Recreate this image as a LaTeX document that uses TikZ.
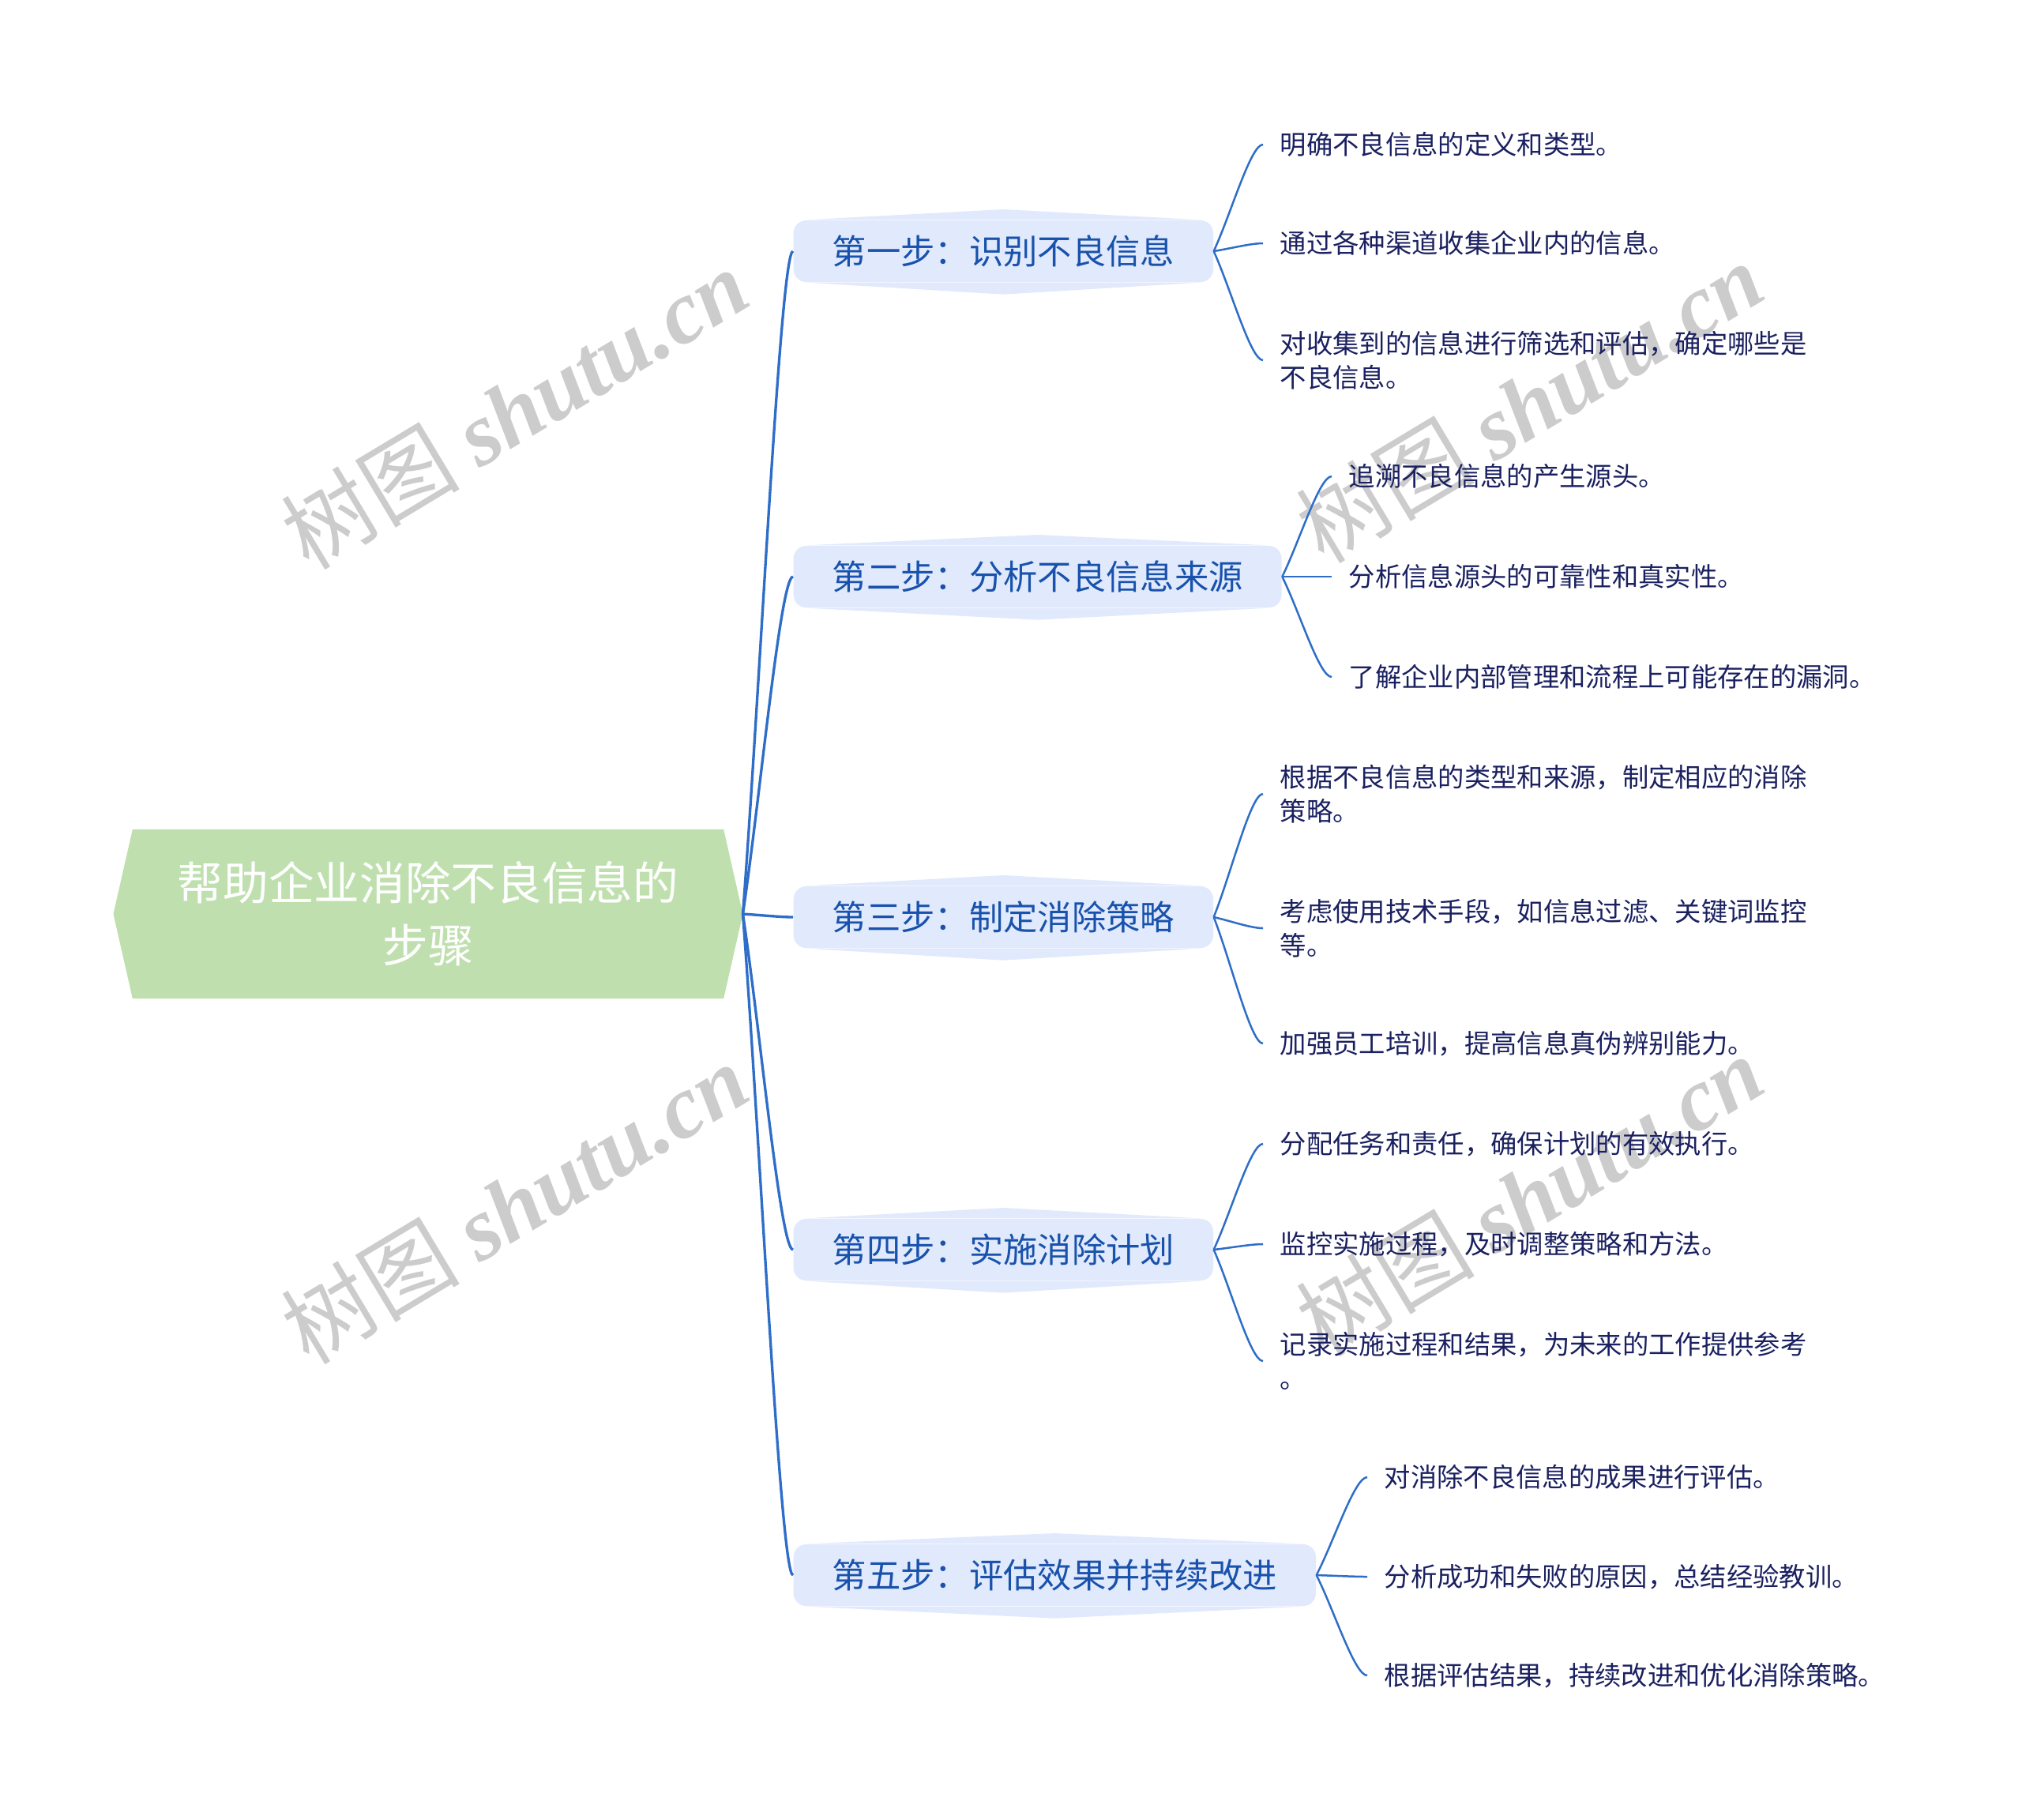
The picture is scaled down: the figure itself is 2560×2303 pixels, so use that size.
\documentclass[tikz,border=0pt]{standalone}
\usepackage{fontspec}
\setmainfont{Noto Sans CJK SC}
\newfontfamily\latinserif{Liberation Serif}
\usetikzlibrary{
  calc,
  backgrounds
}
\definecolor{rootfill}{RGB}{191,224,174}
\definecolor{stepfill}{RGB}{225,233,252}
\definecolor{steptext}{RGB}{24,82,172}
\definecolor{leaftext}{RGB}{26,32,96}
\definecolor{linkblue}{RGB}{46,110,200}
\tikzset{
  % For the central topic (its hexagon is filled behind it).
  rootbox/.style={
    minimum width=224.1pt,
    minimum height=63.9pt,
    inner sep=0pt,
    align=center,
    text=white,
    font=\fontsize{17.3pt}{23.7pt}\selectfont},
%
  % For the five steps.
  stepbox/.style={
    fill=stepfill,
    rounded corners=4.8pt,
    minimum height=23.4pt,
    inner xsep=14.7pt,
    inner ysep=0pt,
    anchor=west,
    text=steptext,
    font=\fontsize{13pt}{15pt}\selectfont},
%
  % For the details of each step.
  leaf/.style={
    anchor=west,
    align=left,
    inner xsep=6.3pt,
    inner ysep=1pt,
    text=leaftext,
    font=\fontsize{10pt}{12.9pt}\selectfont},
%
  % For connectors.
  link/.style={
    draw=linkblue,
    line width=0.75pt},
  trunk/.style={
    link,
    line width=1pt},
%
  % For the grey site marks.
  watermark/.style={
    rotate=31,
    text=black!20,
    font=\fontsize{34pt}{34pt}\selectfont}
}

% Curved connector from one anchor to another.
\newcommand\branch[3][link]{%
  \draw[#1] let \p1=(#2), \p2=(#3) in (\p1)
    .. controls ({\x1+0.35*(\x2-\x1)},{\y1+0.35*(\y2-\y1)})
    and ({\x1+0.75*(\x2-\x1)},{\y2}) .. (\p2);}

\begin{document}
\begin{tikzpicture}[x=0.3pt,y=-0.3pt]
  \useasboundingbox (0,0) rectangle (2560,2303);

  \foreach \wx/\wy in {651/517, 651/1523, 1936/509, 1936/1513}
    \node[watermark] at (\wx,\wy) {树图 {\latinserif\bfseries\itshape shutu.cn}};

  \node[rootbox] (root) at (542,1157) {帮助企业消除不良信息的\\步骤};
  \coordinate (root tip) at ([xshift=7.3pt]root.east);

  \node[stepbox] (s1) at (1004,318)  {第一步：识别不良信息};
  \node[stepbox] (s2) at (1004,730)  {第二步：分析不良信息来源};
  \node[stepbox] (s3) at (1004,1161) {第三步：制定消除策略};
  \node[stepbox] (s4) at (1004,1582) {第四步：实施消除计划};
  \node[stepbox] (s5) at (1004,1994) {第五步：评估效果并持续改进};

  \begin{scope}[on background layer]
    \fill[rootfill] (root.north west) -- (root.north east) -- (root tip)
      -- (root.south east) -- (root.south west)
      -- ([xshift=-7.3pt]root.west) -- cycle;
    \foreach \s in {s1,s2,s3,s4,s5}{
      \fill[stepfill] ([xshift=5pt]\s.north west) -- ([yshift=4pt]\s.north)
        -- ([xshift=-5pt]\s.north east) -- cycle;
      \fill[stepfill] ([xshift=5pt]\s.south west) -- ([yshift=-4.5pt]\s.south)
        -- ([xshift=-5pt]\s.south east) -- cycle;
    }
  \end{scope}

  % Step one.
  \node[leaf] (s1a) at (1599,183) {明确不良信息的定义和类型。};
  \node[leaf] (s1b) at (1599,308) {通过各种渠道收集企业内的信息。};
  \node[leaf] (s1c) at (1599,456) {对收集到的信息进行筛选和评估，确定哪些是\\不良信息。};

  % Step two.
  \node[leaf] (s2a) at (1686,603) {追溯不良信息的产生源头。};
  \node[leaf] (s2b) at (1686,730) {分析信息源头的可靠性和真实性。};
  \node[leaf] (s2c) at (1686,857) {了解企业内部管理和流程上可能存在的漏洞。};

  % Step three.
  \node[leaf] (s3a) at (1599,1005) {根据不良信息的类型和来源，制定相应的消除\\策略。};
  \node[leaf] (s3b) at (1599,1175) {考虑使用技术手段，如信息过滤、关键词监控\\等。};
  \node[leaf] (s3c) at (1599,1321) {加强员工培训，提高信息真伪辨别能力。};

  % Step four.
  \node[leaf] (s4a) at (1599,1448) {分配任务和责任，确保计划的有效执行。};
  \node[leaf] (s4b) at (1599,1575) {监控实施过程，及时调整策略和方法。};
  \node[leaf] (s4c) at (1599,1723) {记录实施过程和结果，为未来的工作提供参考\\。};

  % Step five.
  \node[leaf] (s5a) at (1731,1870) {对消除不良信息的成果进行评估。};
  \node[leaf] (s5b) at (1731,1996) {分析成功和失败的原因，总结经验教训。};
  \node[leaf] (s5c) at (1731,2121) {根据评估结果，持续改进和优化消除策略。};

  \foreach \s in {s1,s2,s3,s4,s5}{
    \branch[trunk]{root tip}{\s.west}
    \foreach \l in {a,b,c}{\branch{\s.east}{\s\l.west}}
  }
\end{tikzpicture}
\end{document}
